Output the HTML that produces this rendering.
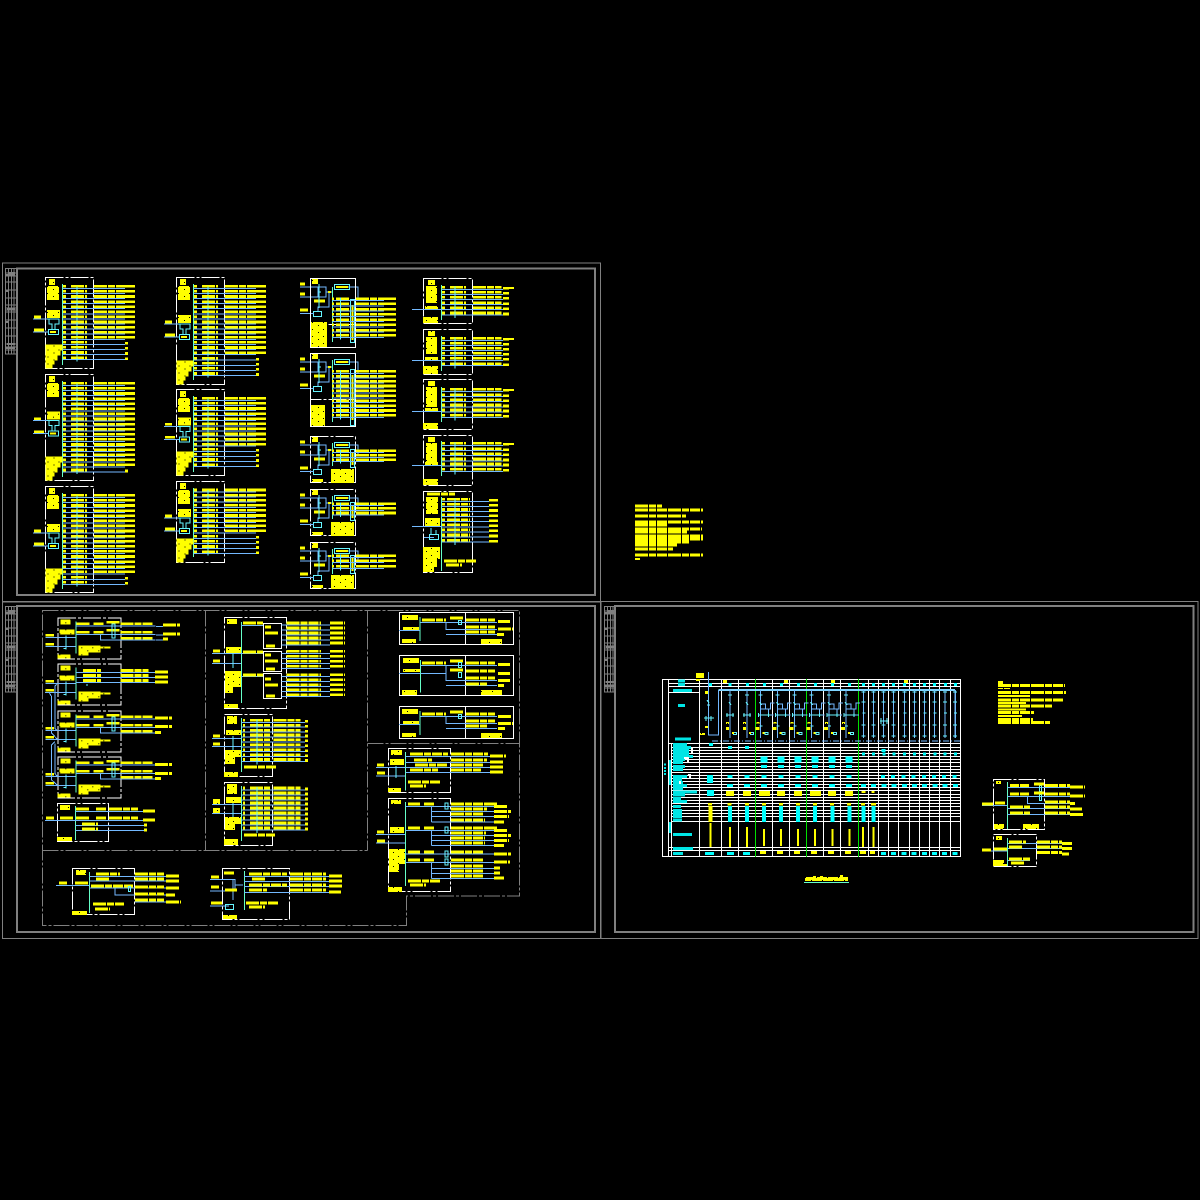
<!DOCTYPE html>
<html lang="en"><head><meta charset="utf-8"><title>Electrical distribution diagram</title>
<style>
html,body{margin:0;padding:0;background:#000}
svg{display:block;shape-rendering:crispEdges}
.y,.y2,.z,.z2,.b,.t,.c,.w,.s,.g,.g2,.gn,.cd{fill:none}
.y{stroke:#ff0;stroke-width:2.6;stroke-dasharray:13 1 7 1 10 1}
.y2{stroke:#ff0;stroke-width:2}
.z{stroke:#0ff;stroke-width:3;stroke-dasharray:9 .7 4 .7 6 .7}
.z2{stroke:#00e5e5;stroke-width:2}
.b{stroke:#73b9ff;stroke-width:1}
.t{stroke:#66ffc8;stroke-width:1}
.c{stroke:#66f5ff;stroke-width:1}
.w{stroke:#fff;stroke-width:1;stroke-dasharray:18 2 3 2}
.s{stroke:#fff;stroke-width:1}
.g{stroke:#808080;stroke-width:1}
.g2{stroke:#808080;stroke-width:2}
.cd{stroke:#808080;stroke-width:1;stroke-dasharray:16 2 3 2}
.gn{stroke:#00e000;stroke-width:1}
.f{fill:url(#tx)}.k{fill:#00e5e5}
</style></head>
<body>
<svg xmlns="http://www.w3.org/2000/svg" width="1200" height="1200" viewBox="0 0 1200 1200">
<rect width="1200" height="1200" fill="#000"/>
<defs>
<pattern id="tx" patternUnits="userSpaceOnUse" width="11" height="7"><rect width="11" height="7" fill="#ff0"/><rect x="2" y="2" width="1" height="1" fill="#000"/><rect x="8" y="5" width="1" height="1" fill="#000"/></pattern>
<g id="ts"><path class="g" d="M.5 .5H11.5V86H.5ZM3.5 .5V86M6.5 .5V86M9 .5V86M.5 5H11.5M.5 8H11.5M.5 14H11.5M.5 22H11.5M.5 30H11.5M.5 37H11.5M.5 40H11.5M.5 42H11.5M.5 44H11.5M.5 52H11.5M.5 60H11.5M.5 68H11.5M.5 76H11.5M.5 79H11.5M.5 82H11.5"/><path d="M3 5h7M1 7h9M1 23h3M2 41h8M1 54h3M2 76h8M1 80h9" stroke="#808080" stroke-width="2" fill="none"/></g>

<g id="r"><path class="y" d="M63 -2h3M71 -2h16M94 -2h30M124 -2h11"/><path class="b" d="M63 0h62"/><path class="c" d="M77 -2v4"/></g>
<g id="r5"><use href="#r"/><use href="#r" y="5.1"/><use href="#r" y="10.2"/><use href="#r" y="15.3"/><use href="#r" y="20.4"/></g>
<g id="s"><path class="y" d="M63 -2h3M71 -2h16M125 -1h3"/><path class="b" d="M63 0h62"/><path class="c" d="M77 -2v4"/></g>
<g id="s4"><use href="#s"/><use href="#s" y="5.1"/><use href="#s" y="10.2"/><use href="#s" y="15.3"/></g>
<g id="tp"><rect class="f" x="4" y="2" width="6" height="6"/><rect class="f" x="2" y="9" width="12" height="14"/></g>
<g id="kk"><rect class="f" x="2" y="0" width="13" height="8"/><path class="b" d="M-12 9H3M-12 22H4"/><path class="y" d="M-11 7h7M-11 20h10"/><path class="c" d="M2 9h12v5h-4v5M4 9v5h3v5"/><rect class="c" x="3.500" y="19.500" width="10" height="5"/><path class="y2" d="M5 22h6"/></g>
<path id="bt" class="f" d="M0 -24h17v6h-2v5h-3v5h-3v4h-2v4h-7z"/>

<g id="q"><path class="y" d="M332 -2h2M336 -2h14M356 -2h28M384 -2h12"/><path class="b" d="M332.500 0H384"/><path class="c" d="M340.500 -3v5"/></g>
<g id="c3"><rect class="w" x=".5" y=".5" width="45" height="46"/><rect class="f" x="2" y="1" width="6" height="5"/><path class="y" d="M-10 6h5M-10 16h5M-10 32h8M4 23h11"/><path class="b" d="M-10 9H8V19H-10M8 9h8V19H8M16 14h6.500M19 14V29H8V33M34 9h14v11"/><path class="c" d="M9 6V30M8 14h3"/><rect class="c" x="3.500" y="33.500" width="8" height="5"/><path class="b" d="M-10 35.500H4"/><rect class="c" x="24.500" y="6.500" width="15" height="5"/><path class="y2" d="M26 9h12"/><path class="f" d="M18 13h3v2h-3z"/></g>

<g id="d"><path class="y" d="M442 -2h3M450 -2h16M473 -2h28.700M503 -1h6"/><path class="b" d="M442 0H503"/><path class="c" d="M455 -3v6"/></g>
<g id="dl"><rect class="w" x=".5" y=".5" width="49" height="45"/><rect class="f" x="5" y="2" width="7" height="5"/><rect class="f" x="3" y="8" width="11" height="17"/></g>
<g id="e"><path class="y" d="M442 -2h3M447 -2h23M489 -1h9"/><path class="b" d="M442 0H489"/><path class="c" d="M455 -3v6"/></g>

<g id="ef"><rect class="w" x=".5" y=".5" width="63" height="41"/><path class="t" d="M18.500 4V36"/><path class="b" d="M-12 20H18M-12 29H18"/><path class="c" d="M8.500 18V32M6 31h3"/><path class="y" d="M-12 18h8.500M-12 27h8.500"/><rect class="f" x="3" y="2" width="10" height="5"/><rect class="f" x="2" y="12" width="15" height="5"/><rect class="f" x="0" y="37" width="13" height="4"/><path class="f" d="M21 28h22v1h10v2h-10v4h-12v3h-10z"/></g>
<g id="e3"><path class="y" d="M19 6.500h14M36 6.500h10M49 5h14M63.400 6.500h33M19 15h14M36 15h10M49 13h14M63.400 15h33M63.400 21h33"/><path class="b" d="M18.500 8.500H98M18.500 17H98M43 17V22.500H98"/><rect class="c" x="54.500" y="6.500" width="3" height="14"/></g>

<g id="g"><path class="y" d="M243 -2h2M250 -2h20M273.300 -2h27M305 -1h3"/><path class="b" d="M241.300 0H305"/><path class="c" d="M257 -3v6"/></g>
<g id="g1r"><path class="y" d="M286.700 -2h34.300M330 -2h15"/><path class="b" d="M281.700 0H330"/></g>

<g id="hf"><rect class="s" x=".5" y=".5" width="114" height="32"/><path class="s" d="M66.500 .5V32"/><path class="t" d="M21 5V29"/><rect class="f" x="3" y="3" width="16" height="5"/><rect class="f" x="4" y="15" width="16" height="3"/><rect class="f" x="3" y="27" width="14" height="4"/><path class="f" d="M82 27h21v5h-21z"/></g>

<g id="nc"><path class="b" d="M0 0V48"/><path class="c" d="M-2 2h4M-2 12h4M-1 23h3M-2 35h4M-2 46h4"/></g>
<g id="wc"><path class="b" d="M0 0V48"/><path class="c" d="M-2 5h4M-1 12l2 3M-2 25h5"/><path class="c" d="M-4 25h8M-3 23v4M3 23v4"/><path class="f" d="M-4 32h3v2h-3zM-4 37h3v3h-3z"/><rect class="c" x="3.500" y="42.500" width="3" height="2"/><path class="y2" d="M2 43h2"/></g>
<g id="bc"><path class="b" d="M0 0V48M0 14h5v5h5v-6h4M0 19h8v6h5"/><path class="c" d="M-2 5h4M-1 12l2 3M-2 25h12M-2 23v4M8 23v4M-1 36h3"/><path class="f" d="M-4 32h3v2h-3zM-5 37h4v3h-4z"/><rect class="c" x="4.500" y="42.500" width="3" height="2"/><path class="y2" d="M2 43h2"/></g>
</defs>

<!-- Sheet frames -->
<path class="g" d="M2.500 263H600.500V602H2.500ZM2.500 601.500H600.500V938.500H2.500ZM601 601.500H1198V938.500H601Z"/>
<path class="g2" d="M17 268.500H595V595H17Z"/>
<path class="g2" d="M17 606H595V932H17Z"/>
<path class="g2" d="M615 606H1193.500V932H615Z"/>
<use href="#ts" x="5" y="268"/><use href="#ts" x="5" y="606"/><use href="#ts" x="604" y="606"/>

<!-- Column 1 -->
<g id="col1">
<rect class="w" x="45.500" y="277.500" width="48" height="91"/><path class="t" d="M62.500 284V365"/><use href="#tp" x="45" y="277"/><use href="#kk" x="45" y="310"/><use href="#bt" x="45.500" y="368.500"/>
<use href="#r5" y="288.300"/><use href="#r5" y="313.800"/><use href="#r" y="339.300"/><use href="#s4" y="344.300"/>
<rect class="w" x="45.500" y="374.500" width="48" height="106"/><path class="t" d="M62.500 381V477"/><use href="#tp" x="45" y="374"/><use href="#kk" x="45" y="411.700"/><use href="#bt" x="45.500" y="480.500"/>
<use href="#r5" y="385.300"/><use href="#r5" y="410.800"/><use href="#r5" y="436.300"/><use href="#r" y="461.800"/><use href="#r" y="466.900"/><use href="#s" y="472"/>
<rect class="w" x="45.500" y="486.500" width="48" height="106"/><path class="t" d="M62.500 493V589"/><use href="#tp" x="45" y="486"/><use href="#kk" x="45" y="524"/><use href="#bt" x="45.500" y="592.500"/>
<use href="#r5" y="497.300"/><use href="#r5" y="522.800"/><use href="#r5" y="548.300"/><use href="#r" y="573.800"/><use href="#s" y="579.300"/><use href="#s" y="584.300"/>
</g>
<!-- Column 2 -->
<g transform="translate(131)">
<rect class="w" x="45.500" y="277.500" width="48" height="107"/><path class="t" d="M62.500 284V380"/><use href="#tp" x="45" y="277"/><use href="#kk" x="45" y="315"/><use href="#bt" x="45.500" y="384.500"/>
<use href="#r5" y="288.300"/><use href="#r5" y="313.800"/><use href="#r" y="339.300"/><use href="#r" y="344.400"/><use href="#r" y="349.500"/><use href="#r" y="354.600"/><use href="#s4" y="360.200"/>
<rect class="w" x="45.500" y="389.500" width="48" height="86"/><path class="t" d="M62.500 396V472"/><use href="#tp" x="45" y="389"/><use href="#kk" x="45" y="417.300"/><use href="#bt" x="45.500" y="475.500"/>
<use href="#r5" y="400.300"/><use href="#r5" y="425.800"/><use href="#s4" y="451.300"/>
<rect class="w" x="45.500" y="481.500" width="48" height="81"/><path class="t" d="M62.500 488V557"/><use href="#tp" x="45" y="481"/><use href="#kk" x="45" y="509"/><use href="#bt" x="45.500" y="562.500"/>
<use href="#r5" y="492"/><use href="#r" y="517.500"/><use href="#r" y="522.600"/><use href="#r" y="527.700"/><use href="#r" y="532.800"/><use href="#s4" y="538.300"/>
</g>
<!-- Column 3 -->
<g>
<g transform="translate(310 278)"><use href="#c3"/><rect class="s" x=".5" y=".5" width="45" height="69"/><rect class="f" x="1" y="44" width="16" height="25"/></g>
<g transform="translate(310 353)"><use href="#c3"/><rect class="s" x=".5" y=".5" width="45" height="73"/><rect class="f" x="1" y="52" width="14" height="21"/></g>
<g transform="translate(310 436)"><use href="#c3"/><rect class="f" x="21" y="33" width="23" height="14"/><rect class="f" x="2" y="43" width="11" height="3"/></g>
<g transform="translate(310 489)"><use href="#c3"/><rect class="f" x="21" y="33" width="23" height="14"/><rect class="f" x="2" y="43" width="11" height="3"/></g>
<g transform="translate(310 542)"><use href="#c3"/><rect class="f" x="21" y="33" width="23" height="14"/><rect class="f" x="2" y="43" width="11" height="3"/></g>
<path class="t" d="M332.500 287V342M332.500 360V422M332.500 443V466M332.500 496V519M332.500 549V574"/>
<path class="c" d="M350.500 299.500h4V342.500h-4ZM350.500 369.500h4V425.500h-4ZM350.500 449.500h4V467.500h-4ZM350.500 502.500h4V520.500h-4ZM350.500 555.500h4V573.500h-4Z"/>
<path class="y2" d="M352.500 305V340M352.500 375V420M352.500 452V465M352.500 505V518M352.500 558V571"/>
<use href="#q" y="300.700"/><use href="#q" y="305.900"/><use href="#q" y="311.200"/><use href="#q" y="316.400"/><use href="#q" y="321.600"/><use href="#q" y="326.900"/><use href="#q" y="332.100"/><use href="#q" y="337.300"/>
<use href="#q" y="373.300"/><use href="#q" y="378.200"/><use href="#q" y="383.100"/><use href="#q" y="388"/><use href="#q" y="392.900"/><use href="#q" y="397.800"/><use href="#q" y="402.700"/><use href="#q" y="407.600"/><use href="#q" y="412.500"/><use href="#q" y="417.400"/>
<use href="#q" y="452.700"/><use href="#q" y="457.300"/><use href="#q" y="461.700"/>
<use href="#q" y="505.700"/><use href="#q" y="510.300"/><use href="#q" y="515"/>
<use href="#q" y="557.700"/><use href="#q" y="562.700"/><use href="#q" y="568.300"/>
</g>
<!-- Column 4 -->
<g>
<use href="#dl" x="423" y="278"/><rect class="f" x="425" y="306" width="13" height="3"/><rect class="f" x="423" y="317" width="15" height="6"/>
<rect class="w" x="423.500" y="329.500" width="49" height="45"/><rect class="f" x="428" y="331" width="7" height="5"/><rect class="f" x="426" y="337" width="11" height="17"/><rect class="f" x="425" y="357" width="13" height="3"/><rect class="f" x="423" y="366" width="15" height="8"/>
<rect class="w" x="423.500" y="379.500" width="49" height="50"/><rect class="f" x="428" y="381" width="7" height="5"/><rect class="f" x="426" y="387" width="11" height="20"/><rect class="f" x="425" y="408" width="13" height="3"/><rect class="f" x="423" y="423" width="15" height="6"/>
<rect class="w" x="423.500" y="435.500" width="49" height="50"/><rect class="f" x="428" y="437" width="7" height="5"/><rect class="f" x="426" y="443" width="11" height="19"/><rect class="f" x="425" y="462" width="13" height="3"/><rect class="f" x="423" y="479" width="15" height="6"/>
<rect class="w" x="423.500" y="491.500" width="49" height="81"/><path class="y" d="M427 494h28"/><rect class="f" x="426" y="497" width="12" height="17"/><rect class="f" x="425" y="518" width="15" height="8"/><path class="f" d="M423 547h17v12h-3v8h-3v5h-11z"/>
<path class="t" d="M441.500 285V320M441.500 336V371M441.500 387V422M441.500 441V476M441.500 497V571"/>
<path class="b" d="M412 309.500H442M412 360.500H442M412 411.500H442M412 465.500H442M412 526.500H442M424 537.500H434"/>
<rect class="c" x="429.500" y="534.500" width="9" height="5"/>
<path class="c" d="M431 528V534M436 530V534"/>
<use href="#d" y="289.300"/><use href="#d" y="294.300"/><use href="#d" y="299.300"/><use href="#d" y="304.700"/><use href="#d" y="309.700"/><use href="#d" y="315"/>
<use href="#d" y="340.300"/><use href="#d" y="345.300"/><use href="#d" y="350.300"/><use href="#d" y="355.300"/><use href="#d" y="360.300"/><use href="#d" y="365.700"/>
<use href="#d" y="391.300"/><use href="#d" y="396.700"/><use href="#d" y="401.700"/><use href="#d" y="407"/><use href="#d" y="412"/><use href="#d" y="417.300"/>
<use href="#d" y="445.300"/><use href="#d" y="450.700"/><use href="#d" y="455.700"/><use href="#d" y="461"/><use href="#d" y="466"/><use href="#d" y="471.300"/>
<use href="#e" y="501.300"/><use href="#e" y="506.400"/><use href="#e" y="511.500"/><use href="#e" y="516.600"/><use href="#e" y="521.700"/><use href="#e" y="526.800"/><use href="#e" y="531.900"/><use href="#e" y="537"/><use href="#e" y="542.100"/>
<path class="y" d="M444 561h32M446 565h16"/><path class="y2" d="M503 288h11M503 339h11M503 390h11M503 444h11"/>
</g>

<!-- Middle notes -->
<path class="y" d="M635 506h27M635 510h68M635 516h51M635 522h68M635 525h33M635 529h67M635 532h52M635 536h68M635 539h68M635 542h55M635 545h42M635 549h38M635 555h68"/><path class="y2" d="M635 559h5"/>

<!-- Panel 2 dash-dot partitions -->
<path class="cd" d="M42.500 610.500H519.500V896H406.500V925.500H42.500ZM205.500 610.500V850.500M42.500 850.500H367.500M367.500 610.500V850.500M367.500 743.500H519.500"/>

<!-- E blocks -->
<use href="#ef" x="57.300" y="617.300"/><use href="#e3" x="57.300" y="617.300"/><path class="y" d="M163 625h17M163 634h17M163 639h5"/><path class="b" d="M156 626.500h7M156 635h7M156 640h7"/>
<use href="#ef" x="57.300" y="663.300"/><path class="b" d="M76 672.500H155M76 677.500H155M76 682.500H155"/><path class="y" d="M83 670.500h18M120.700 670.500h28M155 672h14M83 675.500h18M120.700 675.500h28M155 677h14M83 680.500h18M120.700 680.500h28M155 682h14"/><path class="c" d="M87 684v2"/>
<use href="#ef" x="57.300" y="710.300"/><use href="#e3" x="57.300" y="710.300"/><path class="y" d="M155 718h17M155 726.500h17M155 732.500h6"/>
<use href="#ef" x="57.300" y="756.300"/><use href="#e3" x="57.300" y="756.300"/><path class="y" d="M155 764.500h17M155 773.500h17M155 778.500h6"/>
<path class="b" d="M57.300 683.300L55 686V728.300L57.300 730.700M45 692.300H49L51.700 696.700V733.300L55 736.700L57.300 739.300M55 741.700L51.700 745V780L57.300 785.300M55 743.300V773.300L57.300 776.700"/>
<rect class="w" x="57.500" y="803.500" width="51" height="38"/><path class="t" d="M75.500 806V840"/><path class="b" d="M45 820.500H75.500M75.500 811.500H143M75.500 820.500H143M75.500 825.500H144M75.500 830.500H144"/>
<path class="y" d="M46 818h8M60 818h14M76 809h13M96 809h10M109 809h29M76 818h13M96 818h10M109 818h29M143 811h12M143 820h12M82 824h16M82 829h16M144 825h3M144 830h3"/><rect class="f" x="60" y="805" width="10" height="5"/><rect class="f" x="57" y="837" width="15" height="4"/>

<!-- F blocks -->
<rect class="w" x="72.500" y="868.500" width="62" height="46"/><path class="t" d="M89.500 872V913"/><path class="b" d="M56 885.500H89M89 876.500H166M89 881H166M89 888H166M115 888V895H166M135 902H167"/>
<path class="y" d="M96 874h24M96 879h14M135 874h29M135 879h29M166 876h13M166 881h13M91 886h42M135 887h29M166 888h13M135 894h29M166 895h9M135 900h29M166 902h15M59 883h8M75 883h14M93 904h31M95 909h15"/>
<rect class="f" x="76" y="870" width="10" height="5"/><rect class="f" x="72" y="911" width="15" height="4"/><rect class="c" x="128.500" y="886.500" width="2" height="5"/>
<rect class="w" x="222.500" y="868.500" width="67" height="51"/><path class="t" d="M244.500 871V910"/><path class="b" d="M210 879.500H235V891H210M235 885h8M210 906H229M233 880V900M244 876.500H329M244 881.500H329M244 886.500H329M244 892.500H329"/>
<path class="y" d="M211 877h8M211 887h8M211 903h11M249 874h38M290 874h36M329 876h14M252 879h14M290 879h36M329 881h13M249 885h38M290 885h36M329 886h13M249 890h18M290 890h36M329 892h12M246 903h32M249 907h16M224 873h10M225 890h12"/>
<rect class="c" x="225.500" y="904.500" width="8" height="5"/><rect class="f" x="223" y="915" width="14" height="4"/>

<!-- G blocks -->
<rect class="w" x="224.500" y="617.500" width="62" height="91"/><path class="t" d="M241.500 622V703"/><path class="s" d="M263.500 623.500h18v25h-18ZM263.500 651.500h18v20h-18ZM263.500 673.500h18v25h-18Z"/><path class="b" d="M212 653.500H241M212 663.500H241M241 625.500H263M241 653.500H263M241 676.500H263"/><path class="c" d="M233 651V668"/>
<path class="y" d="M213 651h7M213 661h7M243 623h20M243 652h20M243 675h20M265 627h6M265 633h14M266 646h9M265 655h6M265 661h14M266 669h9M265 679h6M265 685h14M266 696h9"/>
<rect class="f" x="227" y="619" width="10" height="5"/><rect class="f" x="226" y="647" width="15" height="6"/><path class="f" d="M225 671h16v16h-8v6h-8z"/><rect class="f" x="224" y="704" width="14" height="4"/>
<use href="#g1r" y="625"/><use href="#g1r" y="630"/><use href="#g1r" y="635"/><use href="#g1r" y="640"/><use href="#g1r" y="645"/><use href="#g1r" y="653.300"/><use href="#g1r" y="658.300"/><use href="#g1r" y="663.300"/><use href="#g1r" y="668.300"/><use href="#g1r" y="676.700"/><use href="#g1r" y="681.700"/><use href="#g1r" y="686.700"/><use href="#g1r" y="691.700"/><use href="#g1r" y="696.700"/>
<rect class="w" x="224.500" y="714.500" width="48" height="62"/><path class="t" d="M241.500 718V772"/><path class="b" d="M212 738.500H241M212 746.500H241"/><path class="y" d="M213 736h7M213 744h7"/><path class="c" d="M233 736V750"/>
<rect class="f" x="227" y="716" width="10" height="8"/><rect class="f" x="226" y="730" width="15" height="5"/><path class="f" d="M225 750h16v7h-6v7h-10z"/><rect class="f" x="224" y="772" width="14" height="5"/><path class="y" d="M244 767h32"/><use href="#g" y="722.300"/><use href="#g" y="727.200"/><use href="#g" y="732.100"/><use href="#g" y="737"/><use href="#g" y="741.900"/><use href="#g" y="746.800"/><use href="#g" y="751.700"/><use href="#g" y="756.600"/><use href="#g" y="761.500"/>
<rect class="w" x="224.500" y="782.500" width="48" height="63"/><path class="t" d="M241.500 786V841"/><path class="b" d="M212 804.500H241M212 813.500H241"/><rect class="f" x="213" y="799" width="7" height="5"/><rect class="f" x="213" y="808" width="7" height="5"/><path class="c" d="M233 802V818"/>
<rect class="f" x="227" y="784" width="10" height="10"/><rect class="f" x="226" y="797" width="15" height="6"/><path class="f" d="M225 817h16v7h-6v6h-10z"/><rect class="f" x="224" y="839" width="14" height="6"/><path class="y" d="M244 835h31"/><use href="#g" y="790"/><use href="#g" y="795"/><use href="#g" y="800"/><use href="#g" y="805"/><use href="#g" y="810"/><use href="#g" y="815"/><use href="#g" y="820"/><use href="#g" y="825"/><use href="#g" y="830"/>

<!-- H blocks -->
<use href="#hf" x="399" y="612"/><path class="b" d="M399 630.500H420M420.500 622.500H497M446 622.500V629.500H497M446 634.500H497"/><path class="y" d="M422 620h24M450 618h14M466 620h29M498 621.500h12M466 627h29M498 629h15M466 632h29M497 634.500h7"/><rect class="c" x="458.500" y="620.500" width="3" height="4"/>
<rect class="s" x="399.500" y="655.500" width="114" height="40"/><path class="s" d="M465.500 655.500V695"/><path class="t" d="M420.500 660V692.500"/><rect class="f" x="403" y="658" width="16" height="5"/><rect class="f" x="403" y="669" width="17" height="3"/><rect class="f" x="402" y="690" width="15" height="5"/><path class="f" d="M481 690h21v5h-21z"/>
<path class="b" d="M399 673.500H420M420.500 665.500H497M420.500 673.500H446M446 665.500V680.500H497M446 685.500H497"/><path class="y" d="M422 663h24M450 661h14M466 663h29M498 664.500h12M450 670h14M466 671h29M498 673.500h12M466 678h29M498 680.500h12M466 684h22M498 685.500h6"/><path class="c" d="M458.500 662.500h3v5h-3ZM458.500 672.500h3v5h-3Z"/>
<use href="#hf" x="399" y="706"/><path class="b" d="M399 724.500H420M420.500 716.500H497M446 716.500V723.500H497M446 728.500H497"/><path class="y" d="M422 714h24M450 712h14M466 714h29M498 716.500h13M466 721h29M498 723.500h15M466 726h22M498 728.500h7"/><rect class="c" x="458.500" y="714.500" width="3" height="4"/>

<!-- I blocks -->
<rect class="w" x="388.500" y="748.500" width="62" height="44"/><path class="t" d="M405.500 752V790.500"/><path class="b" d="M376 767.500H405M376 776H405M405.500 756.500H490M405.500 762.500H490M405.500 767.500H490M405.500 772.500H490"/><path class="c" d="M396 766V778"/>
<path class="y" d="M377 765h7M377 773h8M410 754h38M451 754h37M490 756h16M414 760h18M451 760h36M490 762h13M415 765h33M451 765h32M490 767h13M410 770h28M451 770h30M490 772h13M408 782h32M410 786h16"/><rect class="f" x="391" y="750" width="11" height="5"/><rect class="f" x="390" y="759" width="14" height="6"/><rect class="f" x="388" y="788" width="13" height="4"/>
<rect class="w" x="388.500" y="798.500" width="62" height="93"/><path class="t" d="M405.500 802V886"/><path class="b" d="M376 834.500H405M376 843H405M405.500 806.500H494M431.500 806.500V822M431.500 811.500H494M431.500 816.500H494M431.500 822H494M405.500 830.500H494M431.500 830.500V845.500M431.500 835.500H494M431.500 840.500H494M431.500 845.500H494M405.500 854H494M405.500 862.500H494M431.500 862.500V878.500M431.500 868.500H494M431.500 873.500H494M431.500 878.500H494"/>
<path class="y" d="M408 804h12M424 804h10M451 804h47M494 806.500h14M451 809h36M494 811.500h17M451 814h33M494 816.500h15M451 820h34M494 822h10M408 828h12M424 828h10M451 828h47M494 830.500h14M451 833h35M494 835.500h17M451 838h34M494 840.500h15M451 843h34M494 845.500h10M408 852h12M424 852h10M451 852h32M494 854h17M408 860h12M424 860h10M451 860h32M494 862h16M451 866h32M494 868h6M451 871h32M494 873h6M451 876h32M494 878h10M377 832h7M377 841h8M408 881h32M410 885h16"/>
<rect class="f" x="391" y="800" width="10" height="4"/><rect class="f" x="390" y="827" width="14" height="6"/><path class="f" d="M389 849h16v15h-6v8h-10z"/><rect class="f" x="388" y="887" width="14" height="5"/>
<path class="c" d="M445 803h3v6h-3ZM445 827h3v6h-3ZM445 851h3v6h-3ZM445 859h3v6h-3Z"/>

<!-- Table -->
<path class="s" d="M662.500 679.500H960.500V856.500H662.500ZM668.500 679.500V856.500M671.500 743V856.500M699.500 679.500V856.500M721.500 679.500V856.500M738.500 679.500V856.500M772.500 679.500V856.500M789.500 679.500V856.500M823.500 679.500V856.500M840.500 679.500V856.500M868.500 679.500V856.500M878.500 679.500V856.500M888.500 679.500V856.500M898.500 679.500V856.500M909.500 679.500V856.500M919.500 679.500V856.500M929.500 679.500V856.500M939.500 679.500V856.500M950.500 679.500V856.500"/>
<path class="s" d="M668.500 683.500H960.500M668.500 686.500H960.500M668.500 692.500H699.500M668.500 743.500H960.500M671.500 747.500H960.500M671.500 750.500H960.500M671.500 753.500H960.500M671.500 756.500H960.500M671.500 759.500H960.500M671.500 762.500H960.500M671.500 766.500H960.500M671.500 769.500H960.500M671.500 772.500H960.500M671.500 775.500H960.500M671.500 778.500H960.500M671.500 781.500H960.500M671.500 784.500H960.500M671.500 787.500H960.500M671.500 790.500H960.500M671.500 794.500H960.500M671.500 797.500H960.500M671.500 800.500H960.500M671.500 803.500H960.500M671.500 806.500H960.500M671.500 810.500H960.500M671.500 813.500H960.500M671.500 816.500H960.500M671.500 821.500H960.500M668.500 847.500H960.500M668.500 850.500H960.500"/>
<path class="gn" d="M755.500 679V857M806.500 679V857M858.500 679V857"/>
<path d="M718.500 690H955" stroke="#7fd4ff" stroke-width="2" fill="none"/>
<path class="b" d="M708.500 672V735H718.500V690M955.500 690V738"/>
<path class="b" d="M712 741H960" stroke-dasharray="6 2 1 2"/>
<path class="c" d="M704 718h10M706 716v5M711 716v5M707 700l2 3M707 705h3"/>
<path class="f" d="M705 691h3v3h-3zM705 726h3v2h-3zM700 733h5v2h-5z"/>
<use href="#wc" x="730" y="690"/><use href="#wc" x="747" y="690"/>
<use href="#bc" x="760.500" y="690"/><use href="#bc" x="777.500" y="690"/><use href="#bc" x="794.500" y="690"/><use href="#bc" x="811.500" y="690"/><use href="#bc" x="829" y="690"/><use href="#bc" x="846" y="690"/>
<use href="#nc" x="863.500" y="690"/><use href="#nc" x="873.500" y="690"/><use href="#nc" x="883.500" y="690"/><use href="#nc" x="893.500" y="690"/><use href="#nc" x="904.500" y="690"/><use href="#nc" x="914.500" y="690"/><use href="#nc" x="924.500" y="690"/><use href="#nc" x="934.500" y="690"/><use href="#nc" x="945" y="690"/><use href="#nc" x="955" y="690"/>
<path class="c" d="M880 721h8M881 718v6M887 718v6"/>
<!-- Table cells -->
<g fill="none">
<path stroke="#0ff" stroke-width="3" d="M709 684.500h3M728.500 684.500h3M746 684.500h3M763 684.500h3M780 684.500h3M797 684.500h3M814 684.500h3M831 684.500h3M848 684.500h3M862 684.500h3M872 684.500h3M882 684.500h3M892 684.500h3M903 684.500h3M913 684.500h3M923 684.500h3M933 684.500h3M944 684.500h3M954 684.500h3"/>
<path stroke="#ff0" stroke-width="3" d="M723 681.500h4M784 681.500h4M831 681.500h4M904 681.500h4"/>
<path stroke="#0ff" stroke-width="3" d="M728 747.500h4M745 747.500h4M709 744.500h4"/>
<path stroke="#0ff" stroke-width="3" stroke-dasharray="3 7.200" d="M862 754h96"/><path stroke="#0ff" stroke-width="3" d="M881.500 750.500h4"/>
<path stroke="#0ff" stroke-width="6" stroke-dasharray="7 10" d="M760.500 759.500H858"/>
<path stroke="#0ff" stroke-width="3" stroke-dasharray="6 11" d="M761 766.500H858"/>
<path stroke="#0ff" stroke-width="3" stroke-dasharray="5 12" d="M761.500 776.500H858"/>
<path stroke="#0ff" stroke-width="3" d="M707 776.500h6M727.500 776.500h5M744.500 776.500h5"/>
<path stroke="#0ff" stroke-width="3" stroke-dasharray="4 6.200" d="M881 776.500H958"/>
<path stroke="#0ff" stroke-width="3" stroke-dasharray="6 11" d="M727 785.500H858"/>
<path stroke="#0ff" stroke-width="3" stroke-dasharray="5 5.200" d="M861 785.500H958"/>
<path stroke="#ff0" stroke-width="5" d="M726 793.500h8M743 793.500h8M759 793.500h11M777 793.500h8M794 793.500h8M810 793.500h11M828 793.500h8M845 793.500h8"/>
<path stroke="#ff0" stroke-width="2" d="M861.500 792h4M871.500 792h3"/>
<path stroke="#0ff" stroke-width="6" d="M707 780h6M707 793h7"/>
<path stroke="#ff0" stroke-width="2.500" d="M708 804h4M727.500 804h4M745 804h4M762 804h4M779 804h4M796 804h4M813 804h4M830 804h4M847 804h4M861 804h4M871 804h5"/>
<path stroke="#0ff" stroke-width="4" d="M730 806V822M747 806V822M764 806V822M781 806V822M798 806V822M815 806V822M832.500 806V822M849.500 806V822M863.500 806V822M873.500 806V822"/>
<path stroke="#ff0" stroke-width="4" d="M710.500 806V822"/>
<path stroke="#ff0" stroke-width="2" d="M710.500 823V847M730 827V847M747 827V847M764 829V846M781 829V846M798 829V846M815 829V846M832.500 829V846M849.500 829V846M863 827V847M873.500 827V847"/>
<path stroke="#0ff" stroke-width="3" d="M705 853.500h9M727 853.500h7M743 853.500h7"/>
<path stroke="#ff0" stroke-width="3" d="M760 852.500h6M777 852.500h6M794 852.500h6M811 852.500h6M828 852.500h6M845 852.500h6M860 852.500h6M870 852.500h5"/>
<path stroke="#0ff" stroke-width="3" stroke-dasharray="5 5.200" d="M881 853.500H958"/>
<path stroke="#ff0" stroke-width="5" d="M696 675.500h8"/><path stroke="#ff0" stroke-width="2" d="M696 680h4"/>
<path stroke="#00e5e5" stroke-width="3" d="M678 681h7M678 684.500h7M673 690.500h19M678 705.500h7M675 739h16M673 744.500h14M673 747.500h18M673 750.500h16M673 753.500h16M673 756.500h20M673 759.500h12M673 762.500h10M673 766.500h12M673 769.500h10M673 776.500h14M673 779.500h9M673 782.500h10M673 785.500h14M673 788.500h10M673 792h24M673 795h12M673 798.500h8M673 801.500h14M673 806.500h8M673 810.500h9M673 813.500h9M673 816.500h9M673 820h9M673 834.500h19M673 848.500h20M673 853.500h10"/>
<path stroke="#00e5e5" stroke-width="2" d="M665 763.500v2M665 767v2M665 770v2M665 773v2M670 760V785M670 822V833"/>
<path stroke="#fff" stroke-width="2" d="M692 748v6M684 758h4v5M688 775h2v3M680 781v3"/>
</g>
<!-- Table title -->
<path class="f" d="M805 877h43v4h-43zM813 876h3v2h-3zM820 876h3v2h-3zM840 875h3v2h-3z"/>
<path class="t" d="M804 882.500H849"/>

<!-- Right notes -->
<path class="y" d="M998 685.500h67M998 692.500h68M998 700h65M998 706h55M998 712.500h36M998 719.500h35M998 722.500h52"/>
<path class="f" d="M998 681h5v3h-5zM998 688h12v1h-12z"/>
<path class="y2" d="M998 696h32M998 703h28M998 709.500h28M998 716h24"/>

<!-- J blocks -->
<rect class="w" x="993.500" y="779.500" width="51" height="50"/><path class="t" d="M1007.500 782V829"/>
<path class="b" d="M982 805.500H1007M1007.500 787.500H1070M1007.500 796.500H1070M1027.500 796.500V803.500H1070M1007.500 808.500H1070M1007.500 814.500H1070"/>
<path class="c" d="M1039.500 785.500h2v6h-2ZM1039.500 794.500h2v6h-2Z"/>
<path class="y" d="M982 804h11M995 803h10M1010 785.500h9M1020 785.500h9M1034 784h10M1045 785.500h25M1070 787h15M1010 794h9M1020 794h9M1034 793h10M1045 794h25M1070 796h15M1045 802h25M1070 803.500h5M1010 807h20M1045 807h25M1070 809h12M1010 813h20M1045 813h25M1070 814.500h14"/>
<rect class="f" x="996" y="781" width="5" height="3"/><rect class="f" x="994" y="824" width="10" height="5"/><path class="f" d="M1023 824h16v5h-16z"/>
<rect class="w" x="993.500" y="834.500" width="43" height="32"/><path class="t" d="M1007.500 838V866"/>
<path class="b" d="M982 851H1007M1007.500 843.500H1062M1007.500 848.500H1062M1007.500 860.500H1030"/>
<path class="y" d="M982 850h9M994 849h13M1009 842h17M1009 847h14M1037 842h25M1062 843.500h10M1037 847h25M1062 848.500h10M1037 852.500h25M1062 854h7M1009 859h22M1011 863h13"/>
<rect class="f" x="996" y="836" width="6" height="4"/><rect class="f" x="993" y="860" width="11" height="4"/><rect class="f" x="993" y="864" width="14" height="2"/>
</svg>
</body></html>
